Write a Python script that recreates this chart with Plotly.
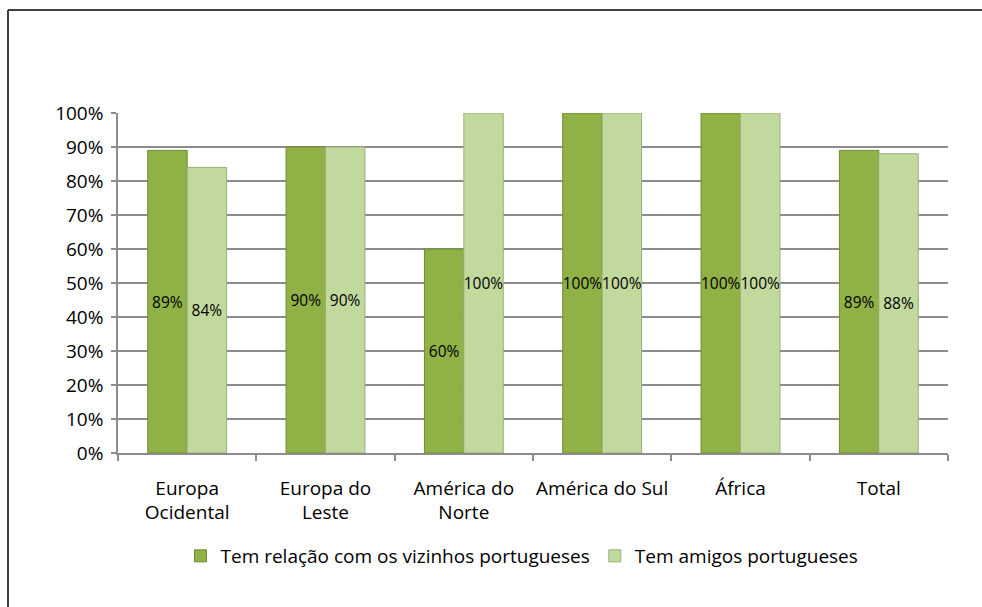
import plotly.graph_objects as go

categories = ["Europa<br>Ocidental", "Europa do<br>Leste", "América do<br>Norte",
              "América do Sul", "África", "Total"]
vizinhos = [0.89, 0.90, 0.60, 1.00, 1.00, 0.89]
amigos = [0.84, 0.90, 1.00, 1.00, 1.00, 0.88]
series_names = ["Tem relação com os vizinhos portugueses", "Tem amigos portugueses"]
tick_vals = [i / 10 for i in range(11)]
tick_text = [f"{i*10}%" for i in range(11)]

W, H = 982, 607
L, R, T, B = 118, 34, 113, 154
pw, ph = W - L - R, H - T - B

def px(x):
    return (x - L) / pw

def py(y):
    return (H - B - y) / ph

FONT = "Open Sans"
FS = 19
LFS = 15.5

fig = go.Figure()
fig.add_trace(go.Bar(
    x=categories, y=vizinhos, name=series_names[0],
    marker=dict(color="#8fb145", line=dict(color="#6e8b2f", width=1)),
    text=[f"{round(v*100)}%" for v in vizinhos],
    textposition="inside", insidetextanchor="middle", textangle=0,
    constraintext="none", cliponaxis=False,
    textfont=dict(family=FONT, size=LFS, color="#000000"),
))
fig.add_trace(go.Bar(
    x=categories, y=amigos, name=series_names[1],
    marker=dict(color="#c2d99d", line=dict(color="#98b07a", width=1)),
    text=[f"{round(v*100)}%" for v in amigos],
    textposition="inside", insidetextanchor="middle", textangle=0,
    constraintext="none", cliponaxis=False,
    textfont=dict(family=FONT, size=LFS, color="#000000"),
))

fig.update_layout(
    width=W, height=H,
    margin=dict(l=L, r=R, t=T, b=B, pad=0),
    paper_bgcolor="white", plot_bgcolor="white",
    barmode="group", bargap=0.43, bargroupgap=0,
    font=dict(family=FONT, size=FS, color="#000000"),
    legend=dict(orientation="h", x=px(522), xanchor="center", y=py(556), yanchor="middle",
                font=dict(family=FONT, size=FS, color="#000000"),
                itemwidth=30, tracegroupgap=0),
    showlegend=True,
    shapes=[
        dict(type="line", xref="paper", yref="paper", x0=px(8), x1=px(982), y0=py(10), y1=py(10),
             line=dict(color="#404040", width=2)),
        dict(type="line", xref="paper", yref="paper", x0=px(8), x1=px(8), y0=py(10), y1=py(607),
             line=dict(color="#404040", width=2)),
    ],
)
fig.update_xaxes(
    type="category", showline=True, linecolor="#8c8c8c", linewidth=1.5,
    ticks="outside", tickson="boundaries", ticklen=6, tickcolor="#8c8c8c", tickwidth=1.5,
    showgrid=False, tickfont=dict(family=FONT, size=FS, color="#000000"),
    tickangle=0, ticklabelstandoff=17,
)
fig.update_yaxes(
    range=[0, 1], tickvals=tick_vals, ticktext=tick_text,
    showline=True, linecolor="#8c8c8c", linewidth=1.5,
    ticks="outside", ticklen=5, tickcolor="#8c8c8c", tickwidth=1.5,
    showgrid=True, gridcolor="#8c8c8c", gridwidth=1.5, zeroline=False,
    tickfont=dict(family=FONT, size=FS, color="#000000"),
    ticklabelstandoff=4,
)

fig.write_html("out.html", config={"displayModeBar": False},
               post_script="document.body.style.margin='0px';")
